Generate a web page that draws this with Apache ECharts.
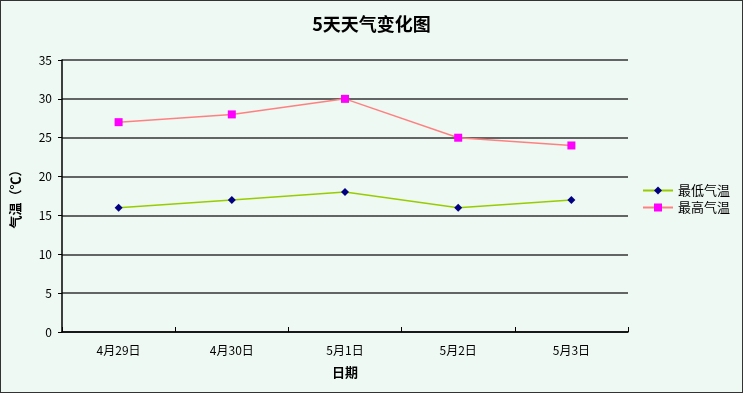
<!DOCTYPE html>
<html><head><meta charset="utf-8">
<script src="https://cdn.jsdelivr.net/npm/echarts@6/dist/echarts.min.js"></script>
<style>html,body{margin:0;padding:0;background:#fff;}#c{width:741px;height:391px;border:1px solid #333;background:#EEF9F3;}</style>
</head><body><div id="c"></div>
<script>
const categories = ['4月29日','4月30日','5月1日','5月2日','5月3日'];
const lowTemps = [16, 17, 18, 16, 17];
const highTemps = [27, 28, 30, 25, 24];
const yTicks = [0, 5, 10, 15, 20, 25, 30, 35];
const font = '"Noto Sans CJK SC", sans-serif';
const chart = echarts.init(document.getElementById('c'));
chart.setOption({
  backgroundColor: '#EEF9F3',
  animation: false,
  title: { text: '5天天气变化图', left: 'center', top: 9,
    textStyle: { fontFamily: font, fontSize: 18, fontWeight: 'bold', color: '#000' } },
  grid: { left: 61, right: 114, top: 59, bottom: 60 },
  legend: { orient: 'vertical', left: 636, top: 178, itemGap: 4, itemWidth: 30, itemHeight: 10,
    textStyle: { fontFamily: font, fontSize: 13, color: '#000' },
    data: ['最低气温','最高气温'] },
  xAxis: { type: 'category', data: categories, boundaryGap: true,
    name: '日期', nameLocation: 'middle', nameGap: 34,
    nameTextStyle: { fontFamily: font, fontSize: 13, fontWeight: 'bold', color: '#000' },
    axisLine: { lineStyle: { color: '#000', width: 1.5 } },
    axisTick: { show: true, length: 5, inside: true, lineStyle: { color: '#000' } },
    axisLabel: { fontFamily: font, fontSize: 12, color: '#000', margin: 12 } },
  yAxis: { type: 'value', min: 0, max: 35, interval: 5,
    name: '气温（℃）', nameLocation: 'middle', nameGap: 40, nameRotate: 90,
    nameTextStyle: { fontFamily: font, fontSize: 13, fontWeight: 'bold', color: '#000' },
    axisLine: { show: true, lineStyle: { color: '#000', width: 1.5 } },
    axisTick: { show: true, length: 4, inside: false, lineStyle: { color: '#000' } },
    axisLabel: { fontFamily: font, fontSize: 12, color: '#000', margin: 10,
      formatter: v => yTicks.includes(v) ? String(v) : '' },
    splitLine: { lineStyle: { color: '#333', width: 1.5 } } },
  series: [
    { name: '最低气温', type: 'line', data: lowTemps, symbol: 'diamond', symbolSize: 8,
      lineStyle: { color: '#99CC00', width: 1.5 }, itemStyle: { color: '#000080' } },
    { name: '最高气温', type: 'line', data: highTemps, symbol: 'rect', symbolSize: 8,
      lineStyle: { color: '#FF8080', width: 1.5 }, itemStyle: { color: '#FF00FF' } }
  ]
});
</script></body></html>
